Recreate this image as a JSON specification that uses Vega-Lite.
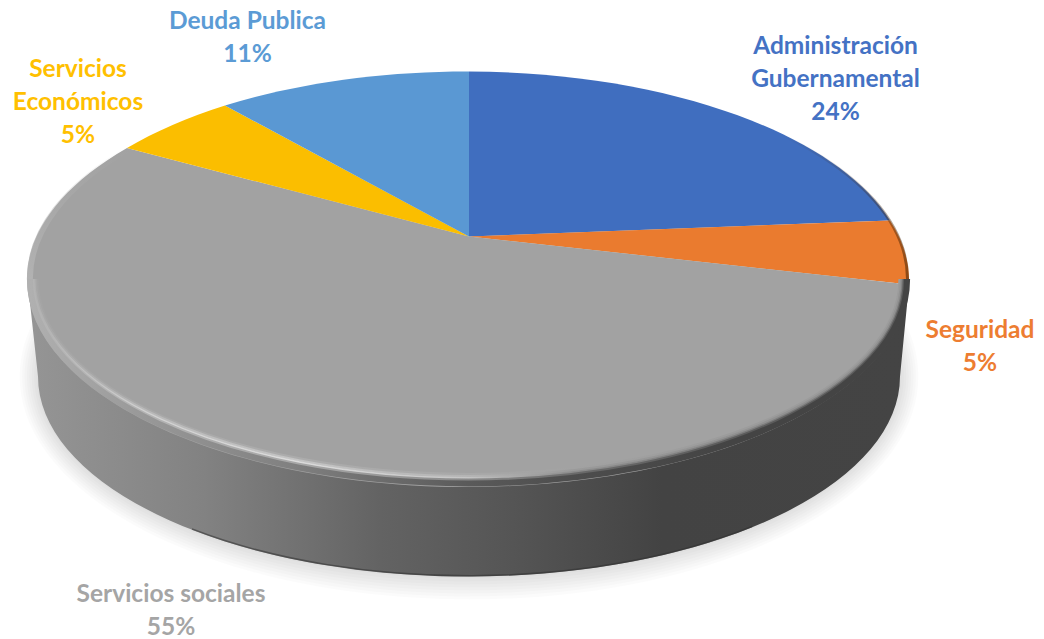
{"$schema":"https://vega.github.io/schema/vega-lite/v6.json","width":1044,"height":639,"padding":0,"autosize":{"type":"fit","contains":"padding"},"background":"white","view":{"stroke":null},"resolve":{"scale":{"shape":"independent","fill":"independent","color":"independent"}},"datasets":{"budget":[{"category":"Administración Gubernamental","order":1,"share":24,"label":"Administración\nGubernamental\n24%"},{"category":"Seguridad","order":2,"share":5,"label":"Seguridad\n5%"},{"category":"Servicios sociales","order":3,"share":55,"label":"Servicios sociales\n55%"},{"category":"Servicios Económicos","order":4,"share":5,"label":"Servicios\nEconómicos\n5%"},{"category":"Deuda Publica","order":5,"share":11,"label":"Deuda Publica\n11%"}]},"layer":[{"data":{"values":[{"ring":"1"},{"ring":"2"},{"ring":"3"},{"ring":"4"},{"ring":"5"},{"ring":"6"},{"ring":"7"},{"ring":"8"}]},"mark":{"type":"point","filled":true,"size":4,"fill":"#000000","strokeWidth":0,"opacity":0.016},"encoding":{"shape":{"field":"ring","type":"nominal","legend":null,"scale":{"domain":["1","2","3","4","5","6","7","8"],"range":["M-485.6 57.5 A432.6 202 0 1 1 379.6 57.5 A432.6 202 0 1 1 -485.6 57.5 Z","M-488 57.5 A435 205 0 1 1 382 57.5 A435 205 0 1 1 -488 57.5 Z","M-490.4 57.5 A437.4 208 0 1 1 384.4 57.5 A437.4 208 0 1 1 -490.4 57.5 Z","M-492.8 57.5 A439.8 211 0 1 1 386.8 57.5 A439.8 211 0 1 1 -492.8 57.5 Z","M-495.2 57.5 A442.2 214 0 1 1 389.2 57.5 A442.2 214 0 1 1 -495.2 57.5 Z","M-497.6 57.5 A444.6 217 0 1 1 391.6 57.5 A444.6 217 0 1 1 -497.6 57.5 Z","M-500 57.5 A447 220 0 1 1 394 57.5 A447 220 0 1 1 -500 57.5 Z","M-502.4 57.5 A449.4 223 0 1 1 396.4 57.5 A449.4 223 0 1 1 -502.4 57.5 Z"]}}}},{"data":{"values":[{"part":"wall"}]},"mark":{"type":"point","filled":true,"opacity":1,"size":4,"shape":"M-494 -34.5 L-484 57.5 A431 200 0 0 0 378 57.5 L387 -34.5 Z","fill":{"gradient":"linear","x1":0,"y1":0,"x2":1,"y2":0,"stops":[{"offset":0,"color":"#959595"},{"offset":0.2,"color":"#828282"},{"offset":0.4,"color":"#636363"},{"offset":0.55,"color":"#555555"},{"offset":0.72,"color":"#434343"},{"offset":1,"color":"#444444"}]}},"encoding":{}},{"data":{"values":[{"part":"wall edge"}]},"mark":{"type":"point","filled":false,"opacity":1,"size":4,"strokeWidth":1.5,"shape":"M-330 210 A431 200 0 0 0 230 207.5","stroke":"rgba(50,50,50,0.55)"},"encoding":{}},{"data":{"name":"budget"},"mark":{"type":"point","filled":true,"opacity":1,"size":4,"strokeWidth":0},"encoding":{"shape":{"field":"category","type":"nominal","legend":null,"scale":{"domain":["Administración Gubernamental","Seguridad","Servicios sociales","Servicios Económicos","Deuda Publica"],"range":["M-53 -82.5 L-53 -247.5 A441 207.5 0 0 1 368 -98.5 Z","M-53 -82.5 L368 -98.5 A441 207.5 0 0 1 387 -34.5 Z","M-53 -82.5 L387 -34.5 A441 207.5 0 1 1 -395 -171 Z","M-53 -82.5 L-395 -171 A441 207.5 0 0 1 -297 -213.5 Z","M-53 -82.5 L-297 -213.5 A441 207.5 0 0 1 -53 -247.5 Z"]}},"fill":{"field":"category","type":"nominal","legend":null,"scale":{"domain":["Administración Gubernamental","Seguridad","Servicios sociales","Servicios Económicos","Deuda Publica"],"range":["#406EBF","#EA7B2F","#A2A2A2","#FBBE00","#5A98D3"]}}}},{"data":{"values":[{"part":"bevel e"}]},"mark":{"type":"point","filled":false,"opacity":1,"size":4,"strokeWidth":2.2,"shape":"M377.5 -40 A431 195 0 0 1 -484.5 -40","stroke":{"gradient":"linear","x1":0,"y1":0,"x2":1,"y2":0,"stops":[{"offset":0,"color":"#a4a4a4"},{"offset":0.12,"color":"#a8a8a8"},{"offset":0.3,"color":"#acacac"},{"offset":0.5,"color":"#a8a8a8"},{"offset":0.62,"color":"#a2a2a2"},{"offset":0.8,"color":"#9c9c9c"},{"offset":1,"color":"#9c9c9c"}]}},"encoding":{}},{"data":{"values":[{"part":"bevel d"}]},"mark":{"type":"point","filled":false,"opacity":1,"size":4,"strokeWidth":2.2,"shape":"M379.1 -40 A432.6 197 0 0 1 -486.1 -40","stroke":{"gradient":"linear","x1":0,"y1":0,"x2":1,"y2":0,"stops":[{"offset":0,"color":"#a8a8a8"},{"offset":0.12,"color":"#b8b8b8"},{"offset":0.3,"color":"#c4c4c4"},{"offset":0.5,"color":"#b4b4b4"},{"offset":0.62,"color":"#9a9a9a"},{"offset":0.8,"color":"#929292"},{"offset":1,"color":"#929292"}]}},"encoding":{}},{"data":{"values":[{"part":"bevel c"}]},"mark":{"type":"point","filled":false,"opacity":1,"size":4,"strokeWidth":2.2,"shape":"M380.7 -40 A434.2 199 0 0 1 -487.7 -40","stroke":{"gradient":"linear","x1":0,"y1":0,"x2":1,"y2":0,"stops":[{"offset":0,"color":"#b0b0b0"},{"offset":0.12,"color":"#d0d0d0"},{"offset":0.3,"color":"#dcdcdc"},{"offset":0.5,"color":"#c4c4c4"},{"offset":0.62,"color":"#8c8c8c"},{"offset":0.8,"color":"#7c7c7c"},{"offset":1,"color":"#7c7c7c"}]}},"encoding":{}},{"data":{"values":[{"part":"bevel b"}]},"mark":{"type":"point","filled":false,"opacity":1,"size":4,"strokeWidth":3,"shape":"M382.3 -40 A435.8 201 0 0 1 -489.3 -40","stroke":{"gradient":"linear","x1":0,"y1":0,"x2":1,"y2":0,"stops":[{"offset":0,"color":"#b4b4b4"},{"offset":0.12,"color":"#b4b4b4"},{"offset":0.3,"color":"#a8a8a8"},{"offset":0.5,"color":"#8a8a8a"},{"offset":0.62,"color":"#6a6a6a"},{"offset":0.8,"color":"#5c5c5c"},{"offset":1,"color":"#5c5c5c"}]}},"encoding":{}},{"data":{"values":[{"part":"bevel a"}]},"mark":{"type":"point","filled":false,"opacity":1,"size":4,"strokeWidth":6,"shape":"M385.1 -40 A438.6 204.5 0 0 1 -492.1 -40","stroke":{"gradient":"linear","x1":0,"y1":0,"x2":1,"y2":0,"stops":[{"offset":0,"color":"#b0b0b0"},{"offset":0.12,"color":"#9a9a9a"},{"offset":0.3,"color":"#808080"},{"offset":0.5,"color":"#5a5a5a"},{"offset":0.62,"color":"#4d4d4d"},{"offset":0.8,"color":"#444444"},{"offset":1,"color":"#444444"}]}},"encoding":{}},{"data":{"values":[{"part":"rim top left"}]},"mark":{"type":"point","filled":false,"opacity":1,"size":4,"strokeWidth":6,"shape":"M-492.1 -40 A438.6 204.5 0 0 1 -391.5 -171","stroke":{"gradient":"linear","x1":0,"y1":0,"x2":0,"y2":1,"stops":[{"offset":0,"color":"rgba(175,175,175,0)"},{"offset":0.5,"color":"rgba(178,178,178,0.45)"},{"offset":1,"color":"rgba(178,178,178,1)"}]}},"encoding":{}},{"data":{"values":[{"part":"rim right"}]},"mark":{"type":"point","filled":false,"opacity":1,"size":4,"strokeWidth":3,"shape":"M258 -185 A439 205.5 0 0 1 385.5 -40","stroke":{"gradient":"linear","x1":0,"y1":0,"x2":0,"y2":1,"stops":[{"offset":0,"color":"rgba(60,30,0,0)"},{"offset":0.5,"color":"rgba(60,30,0,0.35)"},{"offset":1,"color":"rgba(60,30,0,0.55)"}]}},"encoding":{}},{"data":{"name":"budget"},"mark":{"type":"text","font":"Lato","fontWeight":"bold","fontSize":24.5,"align":"center","baseline":"alphabetic","lineBreak":"\n","lineHeight":33},"encoding":{"text":{"field":"label","type":"nominal"},"x":{"field":"order","type":"quantitative","axis":null,"scale":{"domain":[1,2,3,4,5],"range":[835.5,980,171,78,247.5]}},"y":{"field":"order","type":"quantitative","axis":null,"scale":{"domain":[1,2,3,4,5],"range":[54,338,602,77,29]}},"color":{"field":"category","type":"nominal","legend":null,"scale":{"domain":["Administración Gubernamental","Seguridad","Servicios sociales","Servicios Económicos","Deuda Publica"],"range":["#4472C4","#ED7D31","#A5A5A5","#FFC000","#5B9BD5"]}}}}]}
